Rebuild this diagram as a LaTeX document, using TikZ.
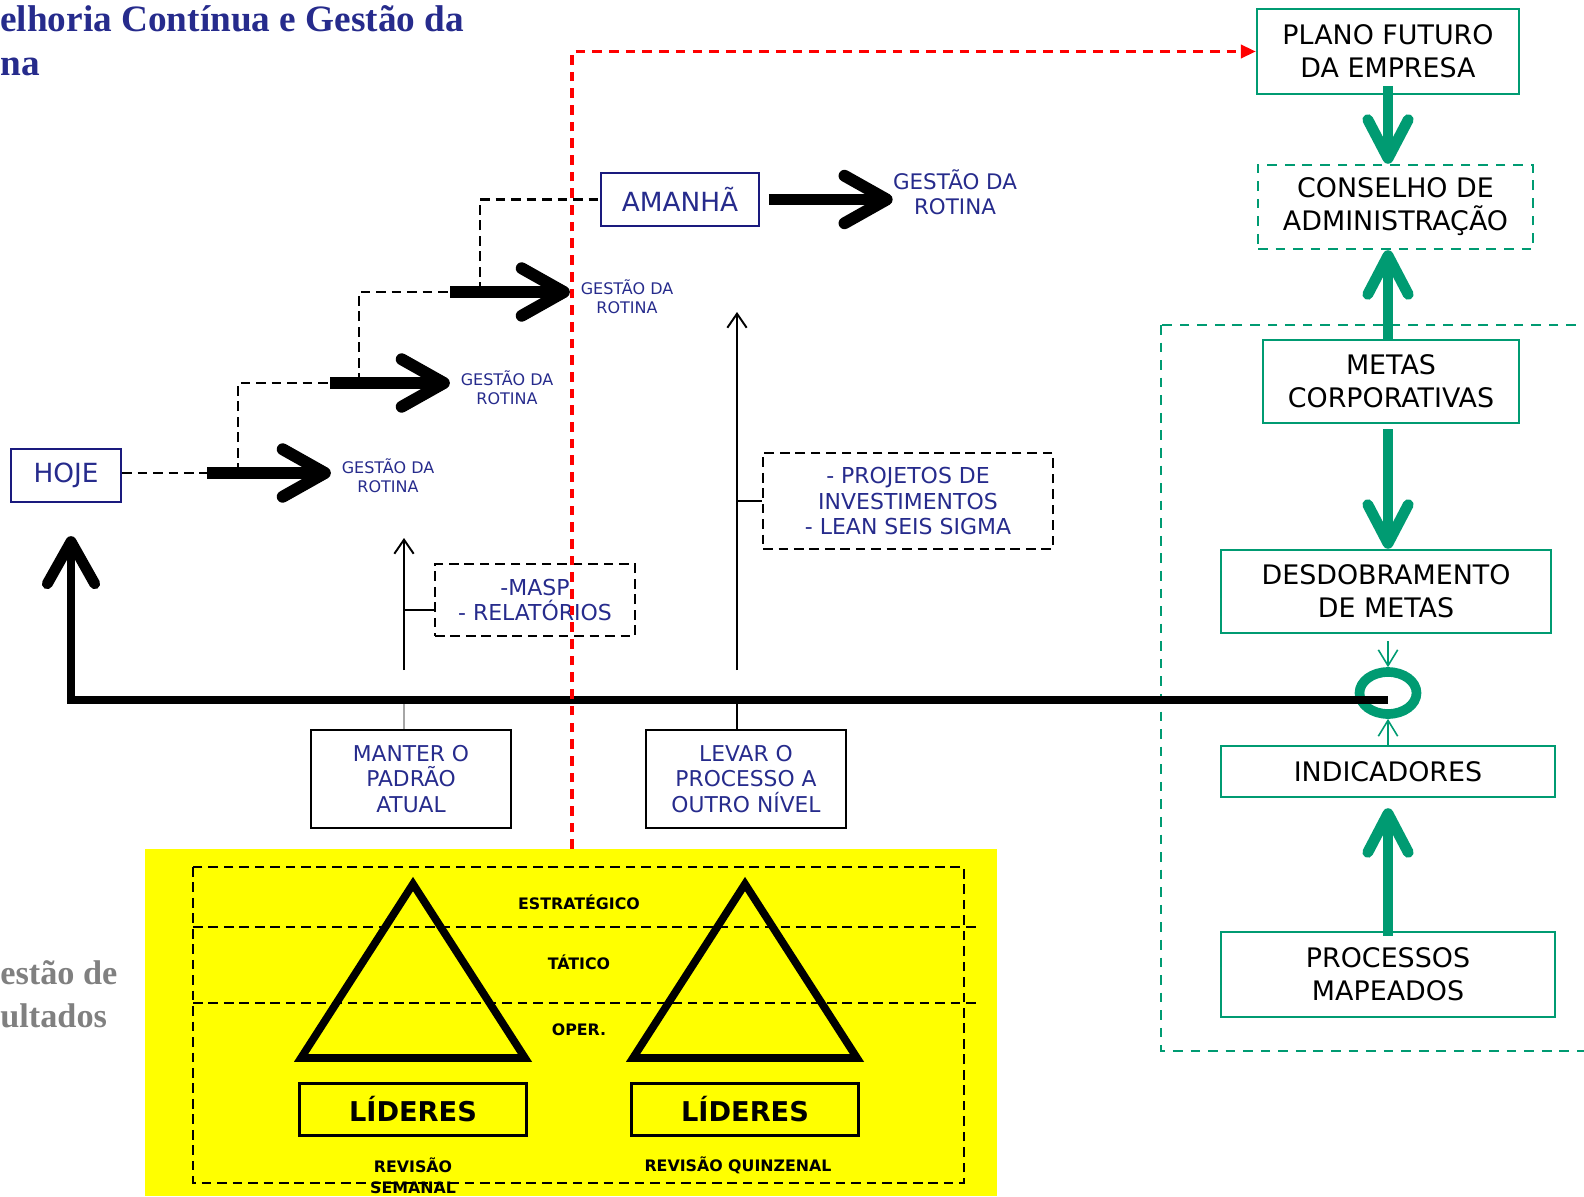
\documentclass[tikz,border=0pt]{standalone}
\usepackage{fontspec}
\setmainfont{DejaVu Sans}
\newfontfamily\serifbold{Liberation Serif}
\usepackage{xcolor}
\usepackage{tikz}
\usetikzlibrary{arrows.meta,positioning,shapes.geometric}
\definecolor{navy}{HTML}{262B8C}
\definecolor{navyline}{HTML}{1A1A7E}
\definecolor{verde}{HTML}{009B72}
\definecolor{amarelo}{HTML}{FFFF00}
\definecolor{cinza}{HTML}{808080}
\newcommand{\tam}[2]{\fontsize{#1}{#2}\selectfont}

\begin{document}
\begin{tikzpicture}[x=0.02cm, y=-0.02cm,
  caixa/.style={draw=verde, line width=1.4pt, font=\tam{15.3pt}{18.7pt}, align=center, inner sep=0pt},
  tempo/.style={draw=navyline, line width=1.3pt, text=navy, font=\tam{15pt}{18pt}, inner sep=0pt,
                minimum height=1.06cm},
  acao/.style={draw, line width=1.4pt, text=navy, font=\tam{12.4pt}{14.3pt}, align=center, inner sep=0pt,
               minimum width=4cm, minimum height=1.96cm},
  ferr/.style={draw, dash pattern=on 5.5pt off 3.3pt, line width=1.5pt, text=navy, font=\tam{12.5pt}{14.3pt},
               align=center, inner sep=0pt},
  rotina/.style={text=navy, font=\tam{9.1pt}{10.8pt}, align=center, inner xsep=6pt, inner ysep=0pt},
  degrau/.style={dash pattern=on 5.5pt off 3.3pt, line width=1.5pt},
  seta/.style={line width=6.8pt, -{Straight Barb[length=24pt, width=27pt, round]}},
  setaverde/.style={verde, line width=6.2pt, -{Straight Barb[length=22pt, width=23pt, round]}},
  fina/.style={line width=1.1pt, -{Straight Barb[length=8pt, width=11pt]}},
  nivel/.style={font=\bfseries\tam{9pt}{12pt}, align=center, inner sep=0pt},
  lider/.style={draw, line width=1.7pt, font=\bfseries\tam{15.5pt}{18pt}, minimum width=4.56cm,
                minimum height=1.04cm, inner sep=0pt}]
\useasboundingbox (0,0) rectangle (1584,1196);

% titulos cortados
\node[anchor=base west, inner sep=0pt, text=navy, font=\serifbold\bfseries\tam{21.2pt}{24pt}] (tit1) at (0,32) {elhoria Contínua e Gestão da};
\node[anchor=base west, inner sep=0pt, text=navy, font=\serifbold\bfseries\tam{21.2pt}{24pt}] (tit2) at (0,76) {na};
\node[anchor=base west, inner sep=0pt, text=cinza, font=\serifbold\bfseries\tam{19.5pt}{23pt}] (res1) at (0,984) {estão de};
\node[anchor=base west, inner sep=0pt, text=cinza, font=\serifbold\bfseries\tam{19.5pt}{23pt}] (res2) at (0,1027) {ultados};

% painel amarelo
\fill[amarelo] (145,849) rectangle (997,1196);
\node[nivel] (estr) at (579,902) {ESTRATÉGICO};
\node[nivel] (tat) at (579,962) {TÁTICO};
\node[nivel] (oper) at (579,1030) {OPER.};
\node[nivel] (rev1) at (413,1175.5) {REVISÃO\\SEMANAL};
\node[nivel] (rev2) at (738,1165) {REVISÃO QUINZENAL};
\draw[degrau] (193,867) rectangle (964,1183);
\draw[degrau] (193,927) -- (979,927);
\draw[degrau] (193,1003) -- (979,1003);
\foreach \cx/\nome in {413/1, 745/2} {
  \draw[line width=4.4pt] (\cx,884) -- (\cx-112,1058) -- (\cx+112,1058) -- cycle;
  \node[lider] (lider\nome) at (\cx,1109) {LÍDERES};
}

% hoje / amanha e gestao da rotina
\node[tempo, minimum width=2.2cm] (hoje) at (66,475.5) {HOJE};
\node[tempo, minimum width=3.16cm] (amanha) at (680,199.5) {AMANHÃ};
\node[rotina] (g1) at (388,476) {GESTÃO DA\\ROTINA};
\node[rotina] (g2) at (507,387.5) {GESTÃO DA\\ROTINA};
\node[rotina] (g3) at (627,296.5) {GESTÃO DA\\ROTINA};
\node[rotina, font=\tam{12.2pt}{14.2pt}, inner xsep=0pt] (g4) at (955,192.5) {GESTÃO DA\\ROTINA};

\coordinate (a1) at (207,473);
\coordinate (a2) at (330,383);
\coordinate (a3) at (450,292);
\coordinate (d1) at (238,473);
\coordinate (d2) at (359,383);
\coordinate (d3) at (480,292);
\draw[degrau] (hoje.east |- a1) -- (a1);
\draw[degrau] (d1) |- (a2);
\draw[degrau] (d2) |- (a3);
\draw[degrau] (d3) |- (amanha.west);
\draw[seta] (a1) -- (a1 -| g1.west);
\draw[seta] (a2) -- (a2 -| g2.west);
\draw[seta] (a3) -- (a3 -| g3.west);
\draw[seta, shorten <=5pt] (amanha.east) -- (amanha.east -| g4.west);

% ferramentas
\node[ferr, minimum width=4cm, minimum height=1.44cm] (masp) at (535,600) {-MASP\\- RELATÓRIOS};
\node[ferr, minimum width=5.8cm, minimum height=1.92cm] (proj) at (908,501) {- PROJETOS DE\\INVESTIMENTOS\\- LEAN SEIS SIGMA};
\node[acao] (manter) at (411,779) {MANTER O\\PADRÃO\\ATUAL};
\node[acao] (levar) at (746,779) {LEVAR O\\PROCESSO A\\OUTRO NÍVEL};

\coordinate (base) at (71,700);
\coordinate (u1) at (404,670);
\coordinate (u1t) at (404,538);
\coordinate (u2) at (737,670);
\coordinate (u2t) at (737,312);
\draw[fina] (u1) -- (u1t);
\draw[fina] (u2) -- (u2t);
\draw[line width=1.1pt] ([yshift=-0.2cm]masp.west) -- ([yshift=-0.2cm]masp.west -| u1);
\draw[line width=1.1pt] (proj.west) -- (proj.west -| u2);
\draw[line width=1.1pt, black!35] (manter.north -| u1) -- (base -| u1);
\draw[line width=1.1pt] (levar.north -| u2) -- (base -| u2);

% coluna verde
\coordinate (col) at (1388,0);
\draw[verde, dash pattern=on 5.5pt off 4.5pt, line width=1.6pt] (1161,325) rectangle (1600,1051);
\node[caixa, minimum width=5.24cm, minimum height=1.7cm] (plano) at (1388,51.5) {PLANO FUTURO\\DA EMPRESA};
\node[caixa, dash pattern=on 5.5pt off 4.5pt, minimum width=5.5cm, minimum height=1.68cm] (conselho) at (1395.5,207) {CONSELHO DE\\ADMINISTRAÇÃO};
\node[caixa, minimum width=5.12cm, minimum height=1.66cm] (metas) at (1391,381.5) {METAS\\CORPORATIVAS};
\node[caixa, minimum width=6.6cm, minimum height=1.66cm] (desdob) at (1386,591.5) {DESDOBRAMENTO\\DE METAS};
\node[caixa, minimum width=6.68cm, minimum height=1.02cm] (indic) at (1388,771.5) {INDICADORES};
\node[caixa, minimum width=6.68cm, minimum height=1.7cm] (proc) at (1388,974.5) {PROCESSOS\\MAPEADOS};
\node[ellipse, draw=verde, line width=5.5pt, minimum width=1.14cm, minimum height=0.84cm, inner sep=0pt] (loop) at (1388,693) {};

\draw[setaverde, shorten <=-0.18cm] (col |- plano.south) -- (col |- conselho.north);
\draw[setaverde] (col |- metas.north) -- (col |- conselho.south);
\draw[setaverde, shorten <=0.1cm] (col |- metas.south) -- (col |- desdob.north);
\draw[setaverde, shorten <=-0.1cm, shorten >=0.2cm] (col |- proc.north) -- (col |- indic.south);
\draw[verde, line width=0.9pt, shorten <=4pt, -{Straight Barb[length=9pt, width=11pt]}] (col |- desdob.south) -- (loop.north);
\draw[verde, line width=0.9pt, -{Straight Barb[length=9pt, width=11pt]}] (col |- indic.north) -- (loop.south);

% eixo principal
\draw[line width=5pt, shorten >=0.66cm, -{Straight Barb[length=24pt, width=27pt, line width=6.2pt, round]}]
  (loop.center |- base) -- (base) -- (base |- hoje.south);

% plano futuro
\coordinate (r0) at (572,849);
\draw[red, line width=1.8pt, dash pattern=on 5.5pt off 4pt, -{Triangle[length=8.5pt, width=7.5pt]}] (r0) |- (plano.west);
\end{tikzpicture}
\end{document}
